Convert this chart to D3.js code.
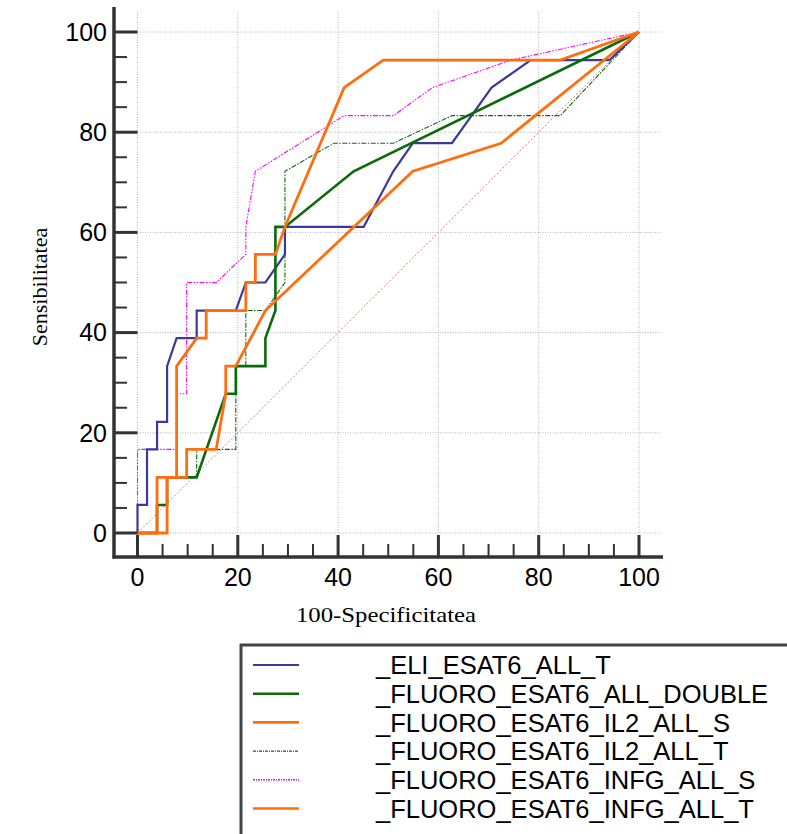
<!DOCTYPE html>
<html><head><meta charset="utf-8">
<script src="https://cdn.jsdelivr.net/npm/d3@7"></script>
<style>html,body{margin:0;padding:0;background:#fff;}svg{display:block;}</style>
</head><body>
<svg id="c" width="787" height="834"></svg>
<script>
// ---- data ----
const seriesNames = ["_ELI_ESAT6_ALL_T","_FLUORO_ESAT6_ALL_DOUBLE","_FLUORO_ESAT6_IL2_ALL_S","_FLUORO_ESAT6_IL2_ALL_T","_FLUORO_ESAT6_INFG_ALL_S","_FLUORO_ESAT6_INFG_ALL_T"];
const eliT_x = [0,0,1.9,1.9,3.9,3.9,5.9,5.9,7.8,11.8,11.8,19.6,21.6,25.5,29.4,29.4,45.1,51.0,54.9,62.7,70.6,78.4,94.1,100];
const eliT_y = [0,5.6,5.6,16.7,16.7,22.2,22.2,33.3,38.9,38.9,44.4,44.4,50,50,55.6,61.1,61.1,72.2,77.8,77.8,88.9,94.4,94.4,100];
const dbl_x = [0,3.9,3.9,5.9,5.9,11.8,17.6,19.6,19.6,25.5,25.5,27.5,27.5,29.4,43.1,100];
const dbl_y = [0,0,5.6,5.6,11.1,11.1,27.8,27.8,33.3,33.3,38.9,44.4,61.1,61.1,72.2,100];
const il2S_x = [0,3.9,3.9,7.8,7.8,11.8,13.7,13.7,21.6,21.6,23.5,23.5,27.5,29.4,41.2,49.0,84.3,100];
const il2S_y = [0,0,11.1,11.1,33.3,38.9,38.9,44.4,44.4,50,50,55.6,55.6,61.1,88.9,94.4,94.4,100];
const il2T_x = [0,3.9,3.9,5.9,5.9,11.8,11.8,19.6,19.6,21.6,21.6,25.5,29.4,29.4,39.2,51.0,62.7,84.3,100];
const il2T_y = [0,0,5.6,5.6,11.1,11.1,16.7,16.7,33.3,33.3,44.4,44.4,50,72.2,77.8,77.8,83.3,83.3,100];
const infgS_x = [0,0,7.8,7.8,9.8,9.8,15.7,21.6,21.6,23.5,41.2,51.0,58.8,74.5,100];
const infgS_y = [0,16.7,16.7,27.8,27.8,50,50,55.6,61.1,72.2,83.3,83.3,88.9,94.4,100];
const infgT_x = [0,5.9,5.9,9.8,9.8,15.7,17.6,17.6,19.6,25.5,54.9,72.5,100];
const infgT_y = [0,0,11.1,11.1,16.7,16.7,27.8,33.3,33.3,44.4,72.2,77.8,100];
const majorTicks = [0,20,40,60,80,100];
const minorTicks = [5,10,15,25,30,35,45,50,55,65,70,75,85,90,95];
const xTitle = "100-Specificitatea";
const yTitle = "Sensibilitatea";

// ---- layout ----
const svg = d3.select("#c");
const x = d3.scaleLinear().domain([0,100]).range([137.5,639]);
const y = d3.scaleLinear().domain([0,100]).range([533,32]);
const axisX = 114, axisY = 557;

// grid
const grid = svg.append("g").attr("stroke","#b4b4b4").attr("stroke-width",1).attr("stroke-dasharray","1,1.5");
grid.selectAll("line.v").data(majorTicks).join("line")
  .attr("x1",d=>x(d)).attr("x2",d=>x(d)).attr("y1",y(0)).attr("y2",y(104.3));
grid.selectAll("line.h").data(majorTicks).join("line")
  .attr("y1",d=>y(d)).attr("y2",d=>y(d)).attr("x1",x(0)).attr("x2",x(104.3));

// diagonal reference
const line = d3.line().x(d=>x(d[0])).y(d=>y(d[1]));
svg.append("path").attr("d",line([[0,0],[100,100]])).attr("fill","none")
  .attr("stroke","#c48888").attr("stroke-width",1).attr("stroke-dasharray","2,2");

// series
const zip = (a,b)=>a.map((v,i)=>[v,b[i]]);
const series = [
  {name:seriesNames[4], pts:zip(infgS_x,infgS_y), color:"#ff00ff", w:1.1, dash:"5,1.5,1.5,1.5,1.5,1.5"},
  {name:seriesNames[3], pts:zip(il2T_x,il2T_y), color:"#0b6b0b", w:1.1, dash:"5,1.5,1.5,1.5"},
  {name:seriesNames[0], pts:zip(eliT_x,eliT_y), color:"#3a3a9c", w:2.2, dash:null},
  {name:seriesNames[1], pts:zip(dbl_x,dbl_y), color:"#0b6b0b", w:2.6, dash:null},
  {name:seriesNames[5], pts:zip(infgT_x,infgT_y), color:"#ff6e0e", w:2.8, dash:null},
  {name:seriesNames[2], pts:zip(il2S_x,il2S_y), color:"#ff6e0e", w:2.8, dash:null}
];
series.forEach(s=>{
  svg.append("path").attr("d",line(s.pts)).attr("fill","none")
    .attr("stroke",s.color).attr("stroke-width",s.w)
    .attr("stroke-dasharray",s.dash).attr("stroke-linejoin","miter");
});

// axes
const ax = svg.append("g").attr("stroke","#333");
ax.append("line").attr("x1",axisX).attr("x2",axisX).attr("y1",7).attr("y2",axisY+1.5).attr("stroke-width",3.5);
ax.append("line").attr("x1",axisX-1.5).attr("x2",663).attr("y1",axisY).attr("y2",axisY).attr("stroke-width",3.5);
ax.selectAll("line.ym").data(majorTicks).join("line").attr("x1",axisX).attr("x2",x(0)).attr("y1",d=>y(d)).attr("y2",d=>y(d)).attr("stroke-width",3);
ax.selectAll("line.yn").data(minorTicks).join("line").attr("x1",axisX).attr("x2",127).attr("y1",d=>y(d)).attr("y2",d=>y(d)).attr("stroke-width",2);
ax.selectAll("line.xm").data(majorTicks).join("line").attr("y1",axisY).attr("y2",y(0)+2).attr("x1",d=>x(d)).attr("x2",d=>x(d)).attr("stroke-width",3);
ax.selectAll("line.xn").data(minorTicks).join("line").attr("y1",axisY).attr("y2",544).attr("x1",d=>x(d)).attr("x2",d=>x(d)).attr("stroke-width",2);

const tf = "'Liberation Sans', Arial, sans-serif";
svg.append("g").selectAll("text").data(majorTicks).join("text")
  .attr("x",107).attr("y",d=>y(d)).attr("dy","0.35em").attr("text-anchor","end")
  .attr("font-family",tf).attr("font-size",25).attr("fill","#000").text(d=>d);
svg.append("g").selectAll("text").data(majorTicks).join("text")
  .attr("x",d=>x(d)).attr("y",586).attr("text-anchor","middle")
  .attr("font-family",tf).attr("font-size",25).attr("fill","#000").text(d=>d);

const sf = "'Liberation Serif', 'Times New Roman', serif";
svg.append("text").attr("x",386).attr("y",622).attr("text-anchor","middle")
  .attr("font-family",sf).attr("font-size",21).attr("textLength",180).attr("lengthAdjust","spacingAndGlyphs").text(xTitle);
svg.append("text").attr("transform","translate(47,287) rotate(-90)").attr("text-anchor","middle")
  .attr("font-family",sf).attr("font-size",22).text(yTitle);

// legend
const legendOrder = [
  {color:"#3a3a9c", w:2.2, dash:null},
  {color:"#0b6b0b", w:2.4, dash:null},
  {color:"#ff6e0e", w:2.6, dash:null},
  {color:"#0b6b0b", w:1.1, dash:"3,1,1,1"},
  {color:"#ff00ff", w:1.4, dash:"2,1,1,1"},
  {color:"#ff6e0e", w:2.6, dash:null}
];
svg.append("rect").attr("x",241).attr("y",645).attr("width",600).attr("height",300)
  .attr("fill","#fff").attr("stroke","#444").attr("stroke-width",3);
const lg = svg.append("g");
seriesNames.forEach((n,i)=>{
  const yy = 665 + i*28.7;
  const st = legendOrder[i];
  lg.append("line").attr("x1",253).attr("x2",299).attr("y1",yy).attr("y2",yy)
    .attr("stroke",st.color).attr("stroke-width",st.w).attr("stroke-dasharray",st.dash);
  lg.append("text").attr("x",376).attr("y",yy).attr("dy","0.36em")
    .attr("font-family",tf).attr("font-size",25.5).attr("fill","#000").text(n);
});
</script>
</body></html>
